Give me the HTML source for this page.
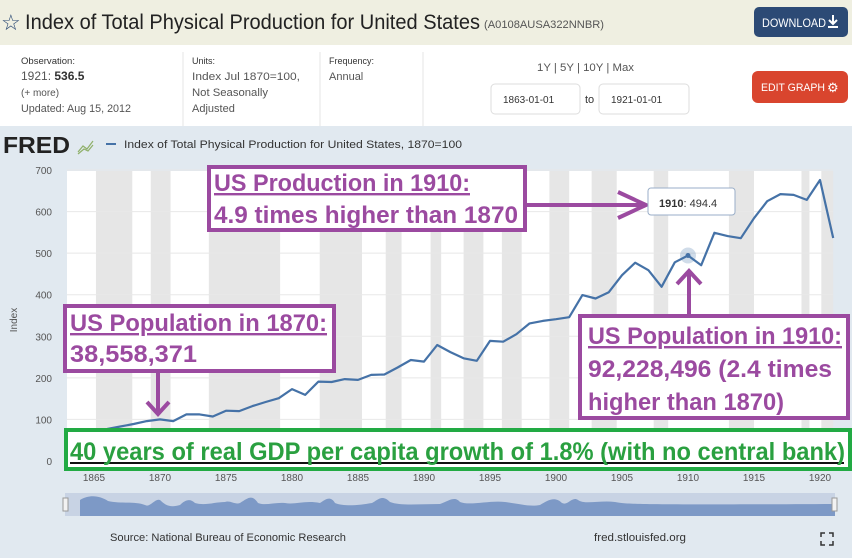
<!DOCTYPE html>
<html><head><meta charset="utf-8">
<style>
html,body{margin:0;padding:0;width:852px;height:558px;overflow:hidden;background:#e1e9f0;font-family:"Liberation Sans",sans-serif;}
svg{display:block}
</style></head>
<body>
<svg id="chart" width="852" height="558" viewBox="0 0 852 558" xmlns="http://www.w3.org/2000/svg" font-family="Liberation Sans, sans-serif">
  <!-- header -->
  <rect x="0" y="0" width="852" height="45" fill="#efefe1"/>
  <text x="1" y="30" font-size="22" fill="#2c4a75">☆</text>
  <text x="25" y="29" font-size="21" fill="#222" textLength="455" lengthAdjust="spacingAndGlyphs">Index of Total Physical Production for United States</text>
  <text x="484" y="28" font-size="11" fill="#555" textLength="120" lengthAdjust="spacingAndGlyphs">(A0108AUSA322NNBR)</text>
  <g>
    <rect x="754" y="7" width="94" height="30" rx="5" fill="#2c4a75"/>
    <text x="762" y="27" font-size="12" fill="#fff" textLength="64" lengthAdjust="spacingAndGlyphs">DOWNLOAD</text>
    <path d="M833 15v8M829 20l4 4 4-4M828 27h10" stroke="#fff" stroke-width="2" fill="none"/>
  </g>
  <rect x="0" y="45" width="852" height="81" fill="#fff"/>
  <g fill="#333" font-size="11">
    <text x="21" y="64" font-size="9" textLength="54" lengthAdjust="spacingAndGlyphs">Observation:</text>
    <text x="21" y="80" font-size="12" fill="#555">1921: <tspan font-weight="bold" fill="#333">536.5</tspan></text>
    <text x="21" y="96" font-size="10" fill="#555">(+ more)</text>
    <text x="21" y="112" font-size="11" fill="#555" textLength="110" lengthAdjust="spacingAndGlyphs">Updated: Aug 15, 2012</text>
  </g>
  <line x1="183" y1="52" x2="183" y2="126" stroke="#e5e5e5"/>
  <g>
    <text x="192" y="64" font-size="9" fill="#333">Units:</text>
    <text x="192" y="80" font-size="11" fill="#555" textLength="108" lengthAdjust="spacingAndGlyphs">Index Jul 1870=100,</text>
    <text x="192" y="96" font-size="11" fill="#555" textLength="76" lengthAdjust="spacingAndGlyphs">Not Seasonally</text>
    <text x="192" y="112" font-size="11" fill="#555">Adjusted</text>
  </g>
  <line x1="320" y1="52" x2="320" y2="126" stroke="#e5e5e5"/>
  <g>
    <text x="329" y="64" font-size="9" fill="#333">Frequency:</text>
    <text x="329" y="80" font-size="11" fill="#555">Annual</text>
  </g>
  <line x1="423" y1="52" x2="423" y2="126" stroke="#e5e5e5"/>
  <text x="537" y="71" font-size="11" fill="#555" textLength="97" lengthAdjust="spacingAndGlyphs">1Y | 5Y | 10Y | Max</text>
  <g>
    <rect x="491" y="84" width="89" height="30" rx="4" fill="#fff" stroke="#ddd"/>
    <text x="503" y="103" font-size="10" fill="#333">1863-01-01</text>
  </g>
  <text x="585" y="103" font-size="11" fill="#333">to</text>
  <g>
    <rect x="599" y="84" width="90" height="30" rx="4" fill="#fff" stroke="#ddd"/>
    <text x="611" y="103" font-size="10" fill="#333">1921-01-01</text>
  </g>
  <g>
    <rect x="752" y="71" width="96" height="32" rx="6" fill="#d9452e"/>
    <text x="761" y="91" font-size="11" fill="#fff" textLength="64" lengthAdjust="spacingAndGlyphs">EDIT GRAPH</text>
    <text x="827" y="92" font-size="13" fill="#fff">⚙</text>
  </g>
  <!-- legend -->
  <text x="3" y="153" font-size="23" font-weight="bold" fill="#222" textLength="67" lengthAdjust="spacingAndGlyphs">FRED</text>
  <path d="M78 152l5-6 4 3 6-8 M78 154l6-5 4 2 5-6" stroke="#8fb06a" stroke-width="1.2" fill="none"/>
  <line x1="106" y1="144" x2="116" y2="144" stroke="#4572a7" stroke-width="2"/>
  <text x="124" y="148" font-size="11" fill="#333" textLength="338" lengthAdjust="spacingAndGlyphs">Index of Total Physical Production for United States, 1870=100</text>

  <rect x="67" y="171" width="766" height="290" fill="#fff"/>
  <g id="bands"></g>
  <g id="grid"></g>
  <g id="yticks"></g>
  <g id="xticks"></g>
  <text transform="translate(17,320) rotate(-90)" font-size="10" fill="#555" text-anchor="middle">Index</text>
  <path id="series" fill="none" stroke="#4572a7" stroke-width="2.2" stroke-linejoin="round"/>
  <g id="hover"></g>

  <!-- navigator -->
  <g>
    <rect x="65" y="493" width="770" height="23" fill="#c8d3e4"/>
    <path d="M80 516 L80 500 C90 494 100 496 108 501 C120 504 135 501 145 505 C150 508 155 498 160 500 C165 505 170 508 180 505 C185 500 190 498 195 503 C205 506 215 502 225 502 C230 500 235 505 240 503 C248 498 252 494 258 503 C265 506 275 502 285 503 C295 505 305 500 320 503 C325 500 330 495 335 503 C345 507 360 505 372 503 C378 500 382 494 390 502 C400 506 420 504 440 504 C450 500 455 496 460 502 C470 506 490 500 505 502 C520 504 530 507 540 505 C548 500 555 496 562 503 C568 506 572 496 578 500 C585 505 600 500 615 502 C625 504 630 505 835 504 L835 516 Z" fill="#7d99c6"/>
    <rect x="63" y="498" width="5" height="13" fill="#f2f2f2" stroke="#999"/>
    <rect x="832" y="498" width="5" height="13" fill="#f2f2f2" stroke="#999"/>
  </g>
  <text x="110" y="541" font-size="11" fill="#333" textLength="236" lengthAdjust="spacingAndGlyphs">Source: National Bureau of Economic Research</text>
  <text x="594" y="541" font-size="11" fill="#333" textLength="92" lengthAdjust="spacingAndGlyphs">fred.stlouisfed.org</text>
  <path d="M821 537v-4h4M829 533h4v4M833 541v4h-4M825 545h-4v-4" stroke="#333" stroke-width="1.5" fill="none"/>

  <!-- annotations -->
  <g>
    <rect x="209" y="167" width="316" height="63" fill="#fff" stroke="#9b4aa0" stroke-width="4"/>
    <text x="214" y="191" font-size="24" font-weight="bold" fill="#9b4aa0" text-decoration="underline" textLength="256" lengthAdjust="spacingAndGlyphs">US Production in 1910:</text>
    <text x="214" y="223" font-size="24" font-weight="bold" fill="#9b4aa0" textLength="304" lengthAdjust="spacingAndGlyphs">4.9 times higher than 1870</text>
    <path d="M527 205H646M618 192l28 13-28 13" stroke="#9b4aa0" stroke-width="4" fill="none"/>
  </g>
  <g>
    <rect x="65" y="306" width="269" height="65" fill="#fff" stroke="#9b4aa0" stroke-width="4"/>
    <text x="70" y="331" font-size="24" font-weight="bold" fill="#9b4aa0" text-decoration="underline" textLength="257" lengthAdjust="spacingAndGlyphs">US Population in 1870:</text>
    <text x="70" y="362" font-size="24" font-weight="bold" fill="#9b4aa0" textLength="127" lengthAdjust="spacingAndGlyphs">38,558,371</text>
    <path d="M158 373V414M147 402l11 12 11-12" stroke="#9b4aa0" stroke-width="4" fill="none"/>
  </g>
  <g>
    <rect x="580" y="316" width="268" height="102" fill="#fff" stroke="#9b4aa0" stroke-width="4"/>
    <text x="588" y="344" font-size="24" font-weight="bold" fill="#9b4aa0" text-decoration="underline" textLength="254" lengthAdjust="spacingAndGlyphs">US Population in 1910:</text>
    <text x="588" y="377" font-size="24" font-weight="bold" fill="#9b4aa0" textLength="244" lengthAdjust="spacingAndGlyphs">92,228,496 (2.4 times</text>
    <text x="588" y="410" font-size="24" font-weight="bold" fill="#9b4aa0" textLength="196" lengthAdjust="spacingAndGlyphs">higher than 1870)</text>
    <path d="M689 314V271M677 284l12-13 12 13" stroke="#9b4aa0" stroke-width="4" fill="none"/>
  </g>
  <g>
    <rect x="66" y="430" width="784" height="39" fill="#fff" stroke="#22aa44" stroke-width="4"/>
    <line x1="70" y1="463" x2="844" y2="463" stroke="#111" stroke-width="2"/>
    <text x="70" y="460" font-size="25" font-weight="bold" fill="#2aa040" textLength="775" lengthAdjust="spacingAndGlyphs">40 years of real GDP per capita growth of 1.8% (with no central bank)</text>
  </g>
  <g>
    <rect x="648" y="188" width="87" height="27" rx="3" fill="#fff" stroke="#9aaec8"/>
    <text x="659" y="207" font-size="11" fill="#333"><tspan font-weight="bold">1910</tspan>: 494.4</text>
  </g>
</svg>
<script>
const years = [];
for (let y = 1863; y <= 1921; y++) years.push(y);
const values = [55,62,68,77,83,89,96,100,96,112,112,107,121,120,132,142,151,173,159,191,190,197,195,207,208,225,243,239,279,262,247,241,289,287,305,331,337,341,346,399,391,406,447,477,459,419,478,494.4,471,549,541,536,584,625,642,640,628,676,536.5];
const yTicks = [0,100,200,300,400,500,600,700];
const xTicks = [1865,1870,1875,1880,1885,1890,1895,1900,1905,1910,1915,1920];
const bandStarts = [1865.15,1869.3,1873.7,1882.1,1887.1,1890.5,1893.0,1895.9,1899.5,1902.7,1907.4,1913.1,1918.6,1920.1];
const bandEnds   = [1867.9,1870.8,1879.1,1885.3,1888.3,1891.3,1894.5,1897.4,1901.0,1904.6,1908.5,1915.0,1919.2,1921.0];

const NS = 'http://www.w3.org/2000/svg';
const X0 = 67.6, X1 = 833.2, Y0 = 461, Y1 = 170;
const xs = yr => X0 + (yr - 1863) / (1921 - 1863) * (X1 - X0);
const ys = v => Y0 - v / 700 * (Y0 - Y1);
function mk(tag, attrs, parent) {
  const e = document.createElementNS(NS, tag);
  for (const k in attrs) e.setAttribute(k, attrs[k]);
  document.getElementById(parent).appendChild(e);
  return e;
}
bandStarts.forEach((s, i) => {
  const r = mk('rect', {x: xs(s), y: 171, width: xs(bandEnds[i]) - xs(s), height: 290, fill: '#e6e6e6'}, 'bands');
  
  
});
yTicks.forEach(t => {
  const l = mk('line', {x1: 67, x2: 833, y1: ys(t), y2: ys(t), stroke: t === 0 ? '#ccd6eb' : '#e8e8e8', 'stroke-width': 1}, 'grid');
  
  
  const tx = mk('text', {x: 52, y: ys(t) + 4, 'font-size': 10, fill: '#555', 'text-anchor': 'end'}, 'yticks');
  tx.textContent = t;
  
  
});
xTicks.forEach(t => {
  const tx = mk('text', {x: xs(t), y: 481, 'font-size': 10, fill: '#555', 'text-anchor': 'middle'}, 'xticks');
  tx.textContent = t;
  
  
});
document.getElementById('series').setAttribute('d', values.map((v, i) => (i ? 'L' : 'M') + xs(years[i]).toFixed(1) + ' ' + ys(v).toFixed(1)).join(' '));
const hi = years.indexOf(1910);
const halo = mk('circle', {cx: xs(1910), cy: ys(values[hi]), r: 8, fill: '#4572a7', 'fill-opacity': 0.25}, 'hover');


const dot = mk('circle', {cx: xs(1910), cy: ys(values[hi]), r: 2.5, fill: '#4572a7'}, 'hover');


</script>
</body></html>
